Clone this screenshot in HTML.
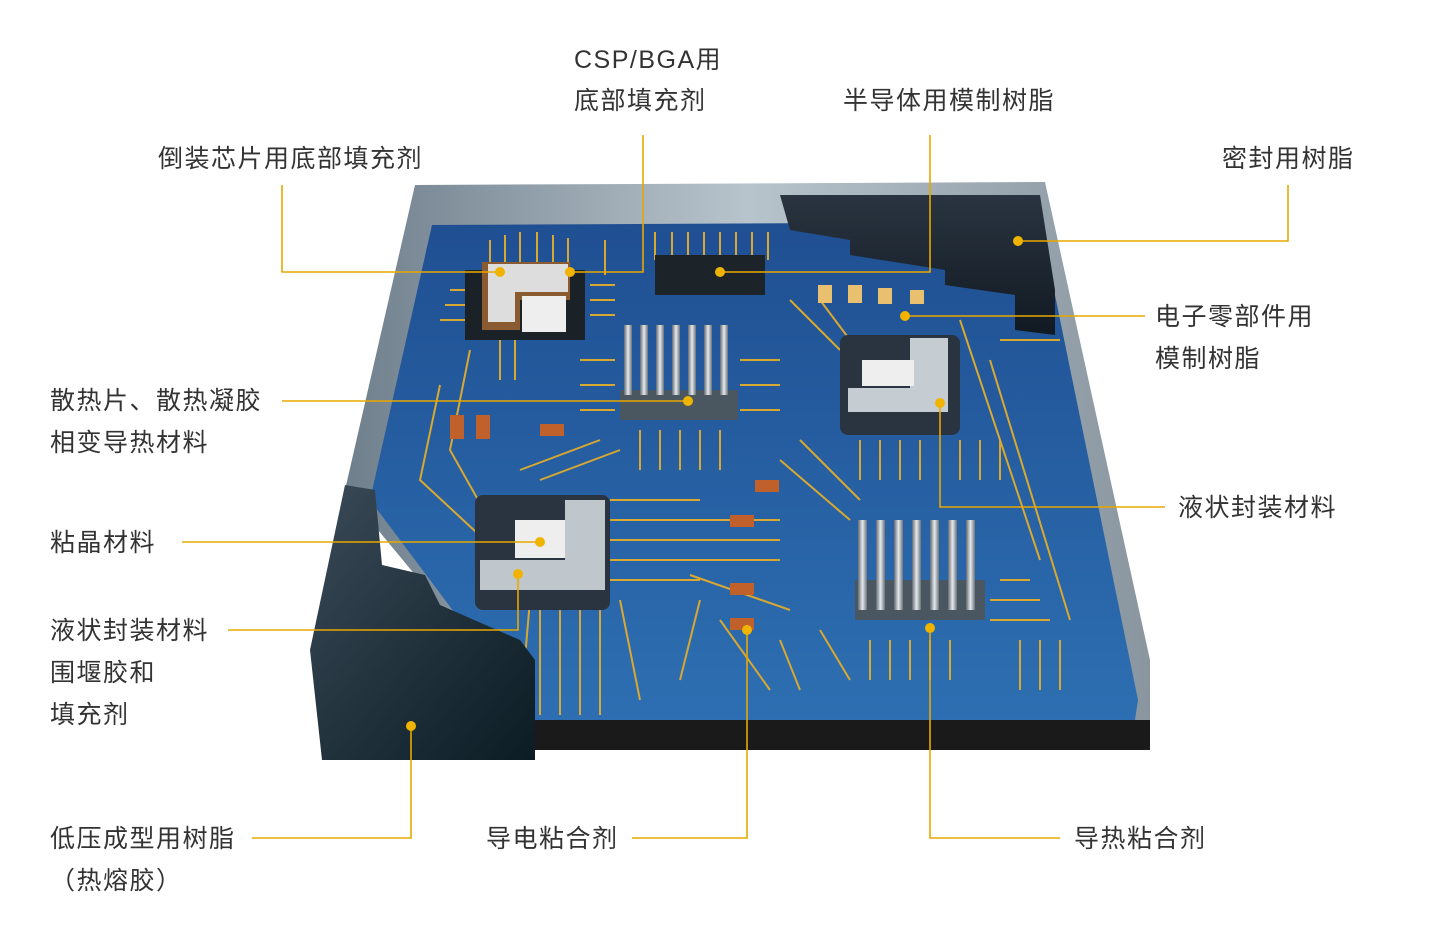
<!DOCTYPE html>
<html><head><meta charset="utf-8"><style>
html,body{margin:0;padding:0;background:#fff;}
svg{display:block}
text{font-family:"Liberation Sans","Noto Sans CJK SC",sans-serif;font-size:25px;letter-spacing:1.5px;fill:#333;}
</style></head><body>
<svg width="1456" height="936" viewBox="0 0 1456 936" xmlns="http://www.w3.org/2000/svg">
<defs>
<linearGradient id="wall" x1="0" y1="0" x2="1" y2="0">
<stop offset="0" stop-color="#6f7f8c"/><stop offset="0.5" stop-color="#b8c4cc"/><stop offset="1" stop-color="#8996a0"/></linearGradient>
<linearGradient id="blue" x1="0" y1="0" x2="0" y2="1">
<stop offset="0" stop-color="#1f4f92"/><stop offset="1" stop-color="#2d6fb2"/></linearGradient>
<linearGradient id="dark" x1="0" y1="0" x2="1" y2="1">
<stop offset="0" stop-color="#3a4a58"/><stop offset="1" stop-color="#0c1c24"/></linearGradient>
<linearGradient id="enc" x1="0" y1="0" x2="0" y2="1">
<stop offset="0" stop-color="#2a3440"/><stop offset="1" stop-color="#111a22"/></linearGradient>
<linearGradient id="sink" x1="0" y1="0" x2="1" y2="0">
<stop offset="0" stop-color="#606870"/><stop offset="0.5" stop-color="#e6eaee"/><stop offset="1" stop-color="#6a7278"/></linearGradient>
</defs>
<polygon points="415,185 1045,182 1150,660 1150,750 535,750 535,720 345,490" fill="url(#wall)"/>
<polygon points="535,720 1150,720 1150,750 535,750" fill="#1a1a1a"/>
<polygon points="432,225 1040,222 1138,700 1135,720 535,720 370,500" fill="url(#blue)"/>
<g stroke="#d8a830" stroke-width="2" fill="none">
<path d="M490,240 V270 M505,235 V270 M520,232 V268 M537,232 V268 M553,235 V268 M568,238 V270 M605,240 V275"/>
<path d="M655,232 V260 M672,232 V260 M688,232 V260 M704,232 V260 M720,232 V260 M736,232 V260 M752,232 V260 M768,232 V260"/>
<path d="M450,290 H470 M445,305 H470 M440,320 H470 M590,285 H615 M590,300 H615 M590,315 H615"/>
<path d="M440,385 L420,480 L490,545 M470,350 L450,450 L495,530 M500,330 V380 M515,330 V380"/>
<path d="M580,360 H615 M580,385 H615 M580,410 H615 M740,360 H780 M740,385 H780 M740,410 H780"/>
<path d="M640,430 V470 M660,430 V470 M680,430 V470 M700,430 V470 M720,430 V470 M600,440 L520,470 M620,450 L540,480"/>
<path d="M610,500 H700 M610,520 H780 M610,540 H780 M610,560 H780 M610,580 H700 M690,575 L790,610"/>
<path d="M540,600 V715 M560,600 V715 M580,600 V715 M600,600 V715 M620,600 L640,700 M530,600 L520,715"/>
<path d="M860,440 V480 M880,440 V480 M900,440 V480 M920,440 V480 M960,440 V480 M980,440 V480 M1000,440 V480"/>
<path d="M870,640 V680 M890,640 V680 M910,640 V680 M930,640 V680 M950,640 V680 M1020,640 V690 M1040,640 V690 M1060,640 V690"/>
<path d="M700,600 L680,680 M720,620 L770,690 M780,640 L800,690 M820,630 L850,680"/>
<path d="M960,320 L1040,560 M1000,340 H1060 M990,360 L1070,620 M1000,580 H1030 M990,600 H1040 M990,620 H1050"/>
<path d="M800,440 L860,500 M780,460 L850,520 M790,300 L840,350 M820,300 L850,340"/>
</g>
<rect x="465" y="270" width="120" height="70" fill="#1a2228"/>
<polygon points="482,262 570,262 570,300 520,300 520,330 482,330" fill="#8a5a30"/>
<polygon points="488,264 568,264 568,292 515,292 515,322 488,322" fill="#ddd"/>
<rect x="522" y="296" width="44" height="36" fill="#eee"/>
<rect x="655" y="255" width="110" height="40" fill="#1c242a"/>
<rect x="620" y="390" width="118" height="30" fill="#4a5660"/>
<g fill="url(#sink)"><rect x="624" y="325" width="8" height="70"/><rect x="640" y="325" width="8" height="70"/><rect x="656" y="325" width="8" height="70"/><rect x="672" y="325" width="8" height="70"/><rect x="688" y="325" width="8" height="70"/><rect x="704" y="325" width="8" height="70"/><rect x="720" y="325" width="8" height="70"/></g>
<rect x="840" y="335" width="120" height="100" rx="8" fill="#2a3440"/>
<polygon points="910,338 948,338 948,412 848,412 848,388 910,388" fill="#c5ccd2"/>
<rect x="862" y="360" width="52" height="26" fill="#eee"/>
<rect x="475" y="495" width="135" height="115" rx="8" fill="#2a3440"/>
<polygon points="565,500 605,500 605,590 480,590 480,560 565,560" fill="#bfc6cc"/>
<rect x="515" y="520" width="50" height="38" fill="#eee"/>
<rect x="855" y="580" width="130" height="40" fill="#4a5660"/>
<g fill="url(#sink)"><rect x="858" y="520" width="9" height="90"/><rect x="876" y="520" width="9" height="90"/><rect x="894" y="520" width="9" height="90"/><rect x="912" y="520" width="9" height="90"/><rect x="930" y="520" width="9" height="90"/><rect x="948" y="520" width="9" height="90"/><rect x="966" y="520" width="9" height="90"/></g>
<g fill="#c0602a"><rect x="450" y="415" width="14" height="24"/><rect x="476" y="415" width="14" height="24"/><rect x="540" y="424" width="24" height="12"/><rect x="755" y="480" width="24" height="12"/><rect x="730" y="515" width="24" height="12"/><rect x="730" y="583" width="24" height="12"/><rect x="730" y="618" width="24" height="12"/></g>
<g fill="#e8c070"><rect x="818" y="285" width="14" height="18"/><rect x="848" y="285" width="14" height="18"/><rect x="878" y="288" width="14" height="16"/><rect x="910" y="290" width="14" height="14"/></g>
<polygon points="780,195 1040,195 1055,290 1055,335 1015,330 1015,295 945,285 945,270 850,255 850,240 790,230" fill="url(#enc)"/>
<polygon points="345,485 375,490 382,565 425,575 440,605 520,640 535,660 535,760 322,760 310,650" fill="url(#dark)"/>
<g stroke="#e8a800" stroke-width="1.6" fill="none">
<path d="M282,185 V272 H500"/><path d="M643,135 V272 H570"/><path d="M930,135 V272 H720"/>
<path d="M1288,185 V241 H1018"/><path d="M1145,316 H905"/><path d="M282,401 H688"/>
<path d="M182,542 H540"/><path d="M1165,507 H940 V403"/><path d="M228,630 H518 V574"/>
<path d="M252,838 H411 V726"/><path d="M632,838 H747 V630"/><path d="M1060,838 H930 V628"/>
</g>
<g fill="#f0b400"><circle cx="500" cy="272" r="5"/><circle cx="570" cy="272" r="5"/><circle cx="720" cy="272" r="5"/><circle cx="1018" cy="241" r="5"/><circle cx="905" cy="316" r="5"/><circle cx="688" cy="401" r="5"/><circle cx="540" cy="542" r="5"/><circle cx="940" cy="403" r="5"/><circle cx="518" cy="574" r="5"/><circle cx="411" cy="726" r="5"/><circle cx="747" cy="630" r="5"/><circle cx="930" cy="628" r="5"/></g>
<text x="574" y="68">CSP/BGA用</text><text x="574" y="109">底部填充剂</text>
<text x="843" y="109">半导体用模制树脂</text>
<text x="158" y="167">倒装芯片用底部填充剂</text>
<text x="1222" y="167">密封用树脂</text>
<text x="1155" y="325">电子零部件用</text><text x="1155" y="367">模制树脂</text>
<text x="50" y="409">散热片、散热凝胶</text><text x="50" y="451">相变导热材料</text>
<text x="50" y="551">粘晶材料</text>
<text x="1178" y="516">液状封装材料</text>
<text x="50" y="639">液状封装材料</text><text x="50" y="681">围堰胶和</text><text x="50" y="723">填充剂</text>
<text x="50" y="847">低压成型用树脂</text><text x="50" y="889">（热熔胶）</text>
<text x="486" y="847">导电粘合剂</text>
<text x="1074" y="847">导热粘合剂</text>
</svg>
</body></html>
